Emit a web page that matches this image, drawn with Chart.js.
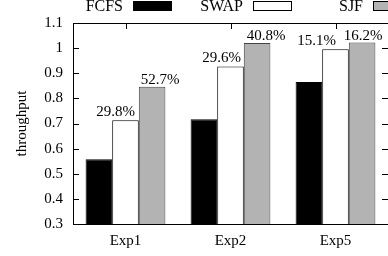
<!DOCTYPE html>
<html>
<head>
<meta charset="utf-8">
<script src="https://cdn.jsdelivr.net/npm/chart.js@4"></script>
<style>
  html, body { margin: 0; padding: 0; background: #fff; overflow: hidden; }
</style>
</head>
<body>
<canvas id="myChart" width="390" height="256"></canvas>
<script>
  const categories = ['Exp1', 'Exp2', 'Exp5'];
  const fcfs = [0.558, 0.717, 0.865];
  const swap = [0.713, 0.927, 0.996];
  const sjf = [0.846, 1.02, 1.022];
  const swapGain = ['29.8%', '29.6%', '15.1%'];
  const sjfGain = ['52.7%', '40.8%', '16.2%'];
  const yTicks = [0.3, 0.4, 0.5, 0.6, 0.7, 0.8, 0.9, 1, 1.1];

  // label nudges (px from bar centre), like the original plot
  const swapLabelDx = [-10, -9, -19];
  const sjfLabelDx = [8, 9, 1];

  const serif = 'Liberation Serif';

  // gnuplot style frame with inward ticks
  const frame = {
    id: 'frame',
    beforeDatasetsDraw(chart) {
      const c = chart.ctx;
      const a = chart.chartArea;
      const y = chart.scales.y;
      const x = chart.scales.x;
      c.save();
      c.strokeStyle = '#000';
      c.lineWidth = 1;
      c.beginPath();
      yTicks.forEach(v => {
        const py = Math.round(y.getPixelForValue(v)) + 0.5;
        c.moveTo(a.left, py); c.lineTo(a.left + 6, py);
        c.moveTo(a.right, py); c.lineTo(a.right - 6, py);
      });
      categories.forEach((cat, i) => {
        const px = Math.round(x.getPixelForValue(i)) + 0.5;
        c.moveTo(px, a.top); c.lineTo(px, a.top + 6);
      });
      c.stroke();
      c.strokeRect(a.left + 0.5, a.top + 0.5, a.right - a.left, a.bottom - a.top);
      c.restore();
    },
    afterDatasetsDraw(chart) {
      const c = chart.ctx;
      c.save();
      c.font = '15px ' + serif;
      c.fillStyle = '#000';
      c.textAlign = 'center';
      c.textBaseline = 'alphabetic';
      chart.getDatasetMeta(1).data.forEach((bar, i) => {
        c.fillText(swapGain[i], bar.x + swapLabelDx[i], bar.y - 4);
      });
      chart.getDatasetMeta(2).data.forEach((bar, i) => {
        c.fillText(sjfGain[i], bar.x + sjfLabelDx[i], bar.y - 3);
      });
      // legend: text then key box
      c.font = '16px ' + serif;
      c.textAlign = 'right';
      chart.data.datasets.forEach((ds, i) => {
        const x0 = 123 + i * 120;
        c.fillStyle = '#000';
        c.fillText(ds.label, x0, 11);
        c.fillStyle = ds.backgroundColor;
        c.fillRect(x0 + 10, 1, 38, 9);
        c.strokeStyle = '#000';
        c.strokeRect(x0 + 10.5, 1.5, 38, 9);
      });
      c.restore();
    }
  };

  new Chart(document.getElementById('myChart'), {
    type: 'bar',
    data: {
      labels: categories,
      datasets: [
        { label: 'FCFS', data: fcfs, backgroundColor: '#000000', borderColor: '#000', borderWidth: 1 },
        { label: 'SWAP', data: swap, backgroundColor: '#ffffff', borderColor: '#000', borderWidth: 1 },
        { label: 'SJF', data: sjf, backgroundColor: '#b3b3b3', borderColor: '#444', borderWidth: 1 }
      ]
    },
    options: {
      responsive: false,
      animation: false,
      layout: { padding: { top: 23, right: 2, left: 0, bottom: 0 } },
      plugins: { legend: { display: false }, tooltip: { enabled: false } },
      datasets: { bar: { categoryPercentage: 0.76, barPercentage: 1 } },
      scales: {
        x: {
          grid: { display: false, drawTicks: false },
          border: { display: false },
          ticks: { color: '#000', font: { family: serif, size: 15 }, padding: 8 },
          afterFit: s => { s.height = 32; }
        },
        y: {
          min: 0.3,
          max: 1.1,
          grid: { display: false, drawTicks: false },
          border: { display: false },
          afterBuildTicks: s => { s.ticks = yTicks.map(v => ({ value: v })); },
          ticks: {
            color: '#000',
            font: { family: serif, size: 15 },
            padding: 10,
            callback: v => String(+v.toFixed(2))
          },
          title: {
            display: true,
            text: 'throughput',
            color: '#000',
            font: { family: serif, size: 15 },
            padding: { top: 13, bottom: 0 }
          },
          afterFit: s => { s.width = 73; }
        }
      }
    },
    plugins: [frame]
  });
</script>
</body>
</html>
